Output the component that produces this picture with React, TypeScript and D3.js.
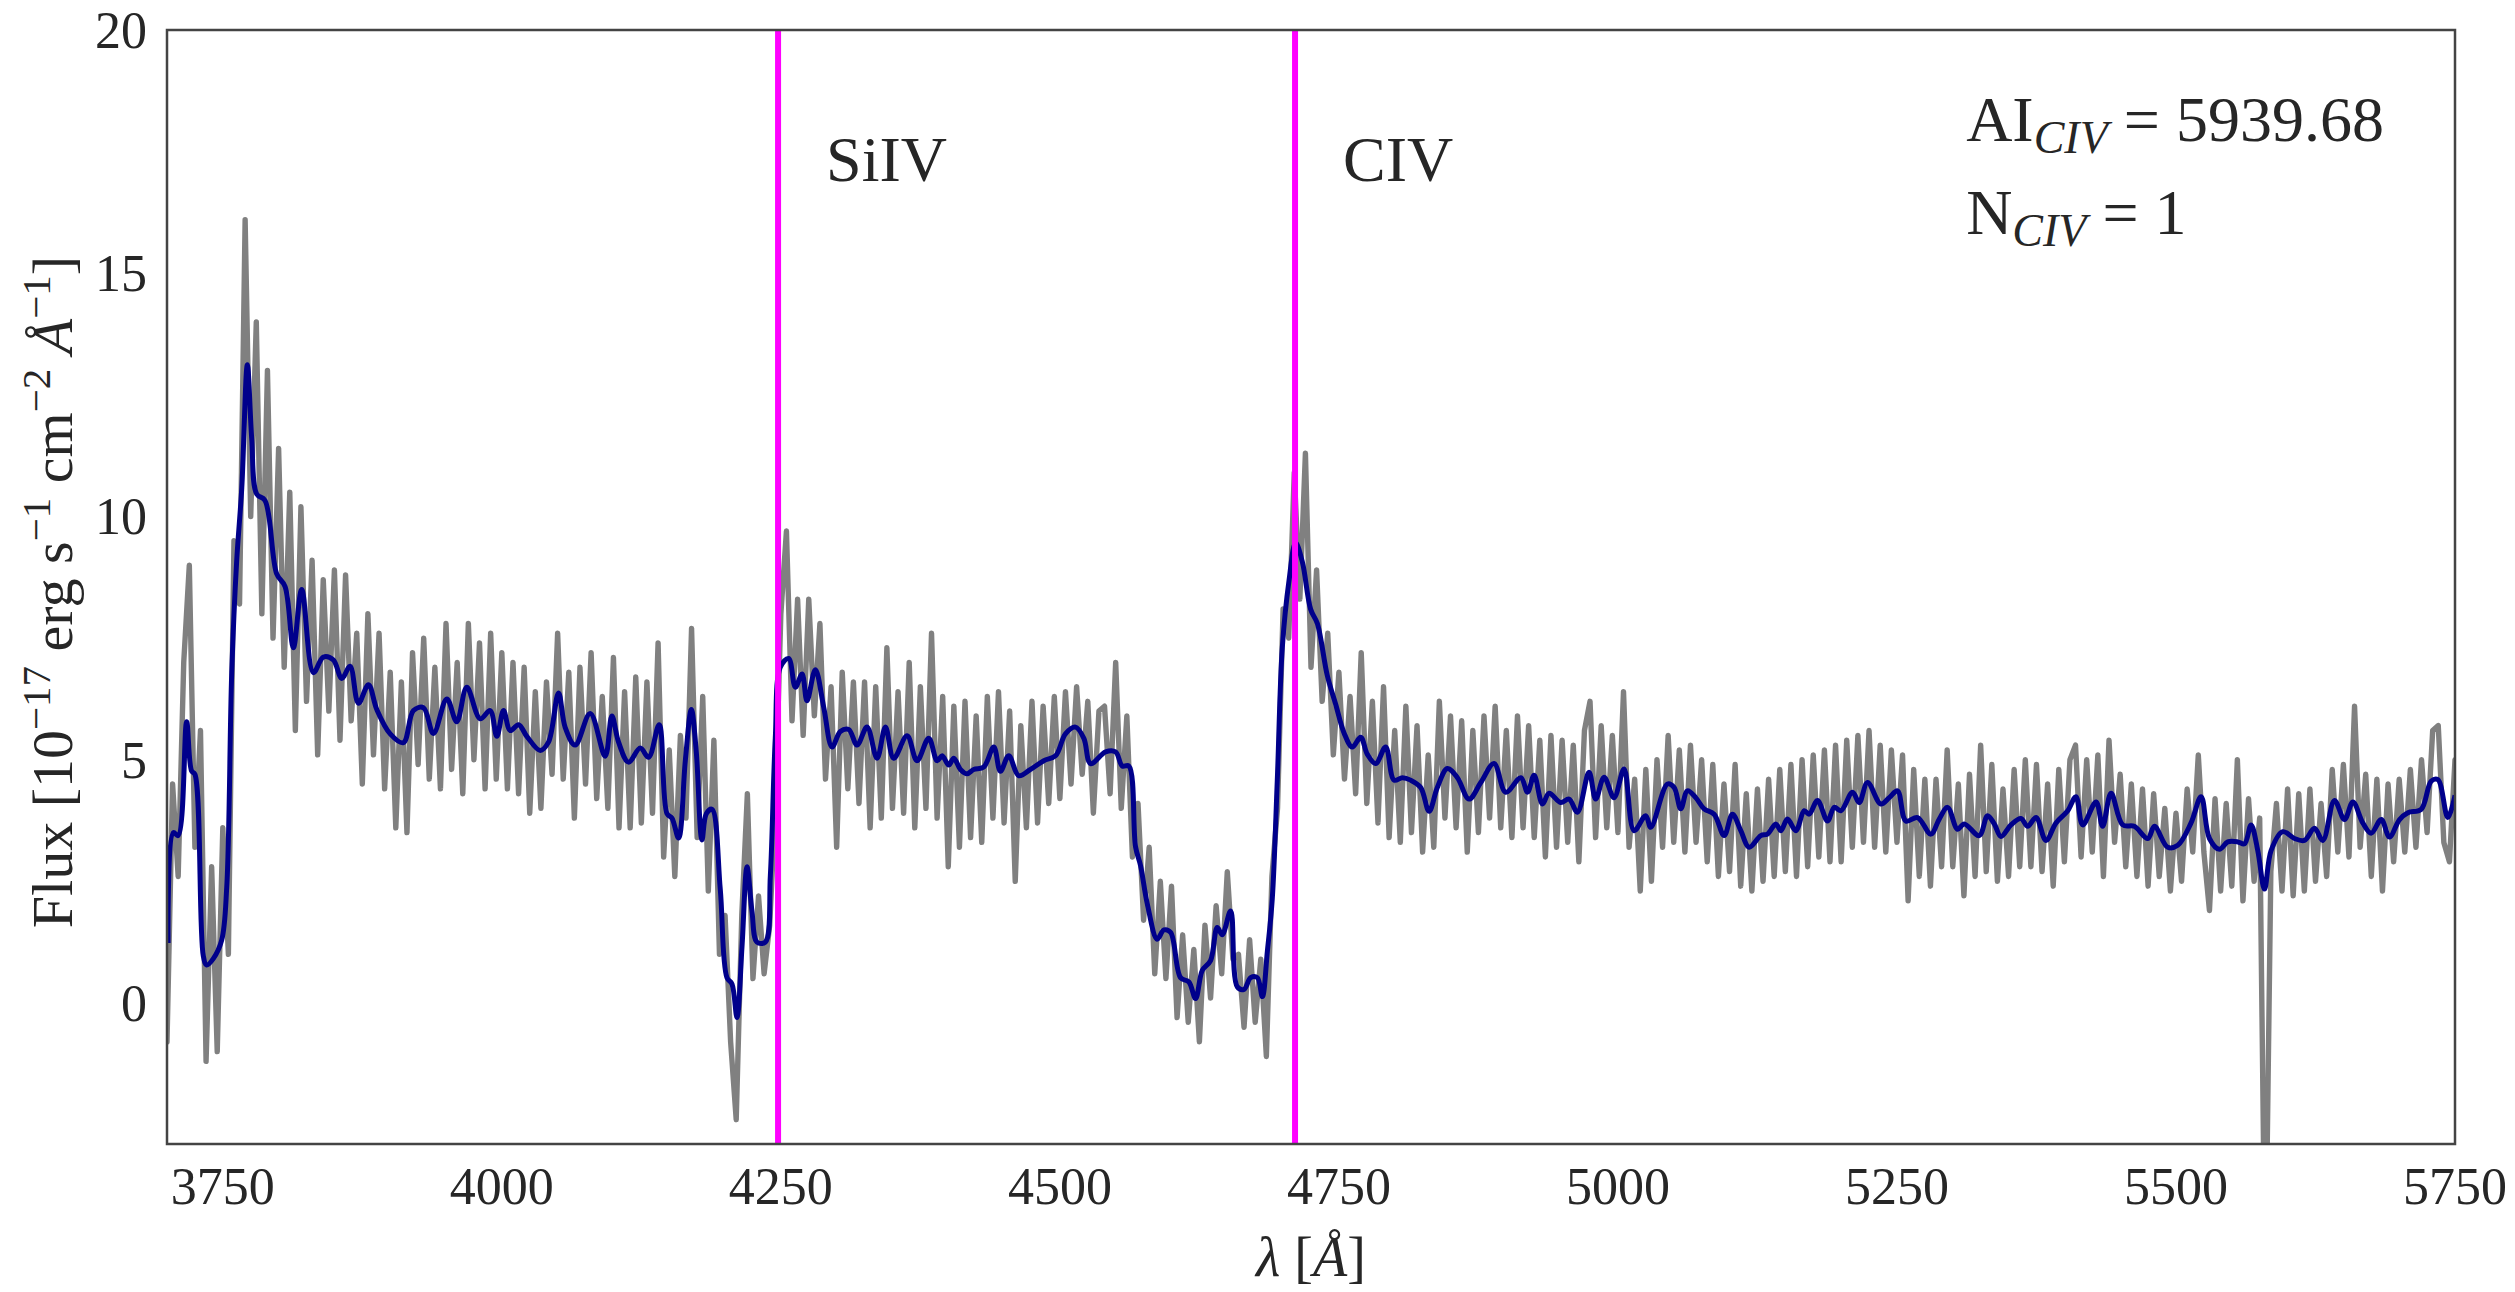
import React from 'react';
import * as d3 from 'd3';

const W = 2515;
const H = 1292;
const M = { left: 167, right: 2455, top: 30, bottom: 1144 };

const xDomain: [number, number] = [3700, 5750];
const yDomain: [number, number] = [-2.9, 20];
const xTicks = [3750, 4000, 4250, 4500, 4750, 5000, 5250, 5500, 5750];
const yTicks = [0, 5, 10, 15, 20];

// observed spectrum (grey), sampled every 5 Å from 3700 Å
const grayStart = 3700;
const grayStep = 5;
const grayFlux = [
  -0.8, 4.5, 2.6, 7.0, 9.0, 3.2, 5.6, -1.2, 2.8, -1.0, 3.6, 1.0, 9.5, 8.2, 16.1, 10.0, 14.0, 8.0, 13.0, 7.5,
  11.4, 6.9, 10.5, 5.6, 10.2, 6.2, 9.1, 5.1, 8.7, 6.0, 8.9, 5.4, 8.8, 5.8, 7.6, 4.5, 8.0, 5.1, 7.6, 4.4,
  6.8, 3.6, 6.6, 3.5, 7.2, 4.9, 7.5, 4.6, 6.9, 4.4, 7.8, 4.8, 7.0, 4.3, 7.8, 5.0, 7.4, 4.4, 7.6, 4.6,
  7.2, 4.4, 7.0, 4.3, 6.9, 3.9, 6.4, 4.0, 6.6, 4.7, 7.6, 4.6, 6.8, 3.8, 6.9, 4.5, 7.2, 4.2, 6.3, 4.0,
  7.1, 3.6, 6.4, 3.6, 6.7, 3.7, 6.6, 3.9, 7.4, 3.0, 5.2, 2.6, 5.5, 3.8, 7.7, 3.4, 6.3, 2.3, 5.4, 1.0,
  1.8, -0.8, -2.4, 1.8, 4.3, 0.5, 2.2, 0.6, 1.6, 4.0, 8.0, 9.7, 5.8, 8.3, 5.5, 8.3, 5.9, 7.8, 4.6, 6.5,
  3.2, 6.8, 4.4, 6.6, 4.1, 6.6, 3.6, 6.5, 3.8, 7.3, 4.0, 6.4, 3.9, 7.0, 3.6, 6.5, 4.0, 7.6, 3.8, 6.3,
  2.8, 6.1, 3.2, 6.2, 3.4, 5.9, 3.3, 6.3, 3.8, 6.4, 3.7, 6.0, 2.5, 5.7, 3.6, 6.2, 3.7, 6.1, 4.1, 6.3,
  4.2, 6.4, 4.5, 6.5, 4.7, 6.2, 3.9, 6.0, 6.1, 4.3, 7.0, 4.0, 5.9, 3.0, 4.1, 1.7, 3.2, 0.6, 2.5, 0.5,
  2.4, -0.3, 1.4, -0.4, 1.1, -0.8, 1.6, 0.1, 2.0, 0.6, 2.7, 0.9, 1.0, -0.5, 1.3, -0.4, 0.9, -1.1, 2.6, 4.0,
  8.1, 7.5, 10.9, 8.3, 11.3, 6.9, 8.9, 6.2, 7.6, 5.1, 6.8, 4.6, 6.3, 4.3, 7.2, 4.1, 6.2, 3.7, 6.5, 3.4,
  5.6, 3.3, 6.1, 3.5, 5.7, 3.1, 5.1, 3.2, 6.2, 3.8, 5.9, 3.6, 5.8, 3.1, 5.6, 3.5, 5.9, 3.8, 6.1, 3.6,
  5.6, 3.4, 5.9, 3.6, 5.7, 3.4, 5.4, 3.0, 5.5, 3.2, 5.4, 3.3, 5.3, 2.9, 5.6, 6.2, 3.4, 5.7, 3.6, 5.5,
  3.5, 6.4, 3.2, 4.6, 2.3, 4.8, 2.5, 5.0, 3.2, 5.5, 3.3, 5.2, 3.1, 5.3, 3.3, 5.0, 2.9, 4.9, 2.6, 4.5,
  2.7, 4.9, 2.4, 4.3, 2.3, 4.4, 2.5, 4.6, 2.6, 4.8, 2.7, 4.9, 2.6, 5.0, 2.8, 5.1, 3.0, 5.2, 2.9, 5.3,
  2.9, 5.4, 3.2, 5.5, 3.3, 5.6, 3.2, 5.3, 3.1, 5.2, 3.3, 5.1, 2.1, 4.8, 2.6, 4.6, 2.4, 4.6, 2.8, 5.2,
  2.8, 4.5, 2.2, 4.7, 2.6, 5.3, 2.7, 4.9, 2.5, 4.4, 2.6, 4.8, 2.8, 5.0, 2.8, 4.9, 2.7, 4.5, 2.4, 4.8,
  2.9, 5.0, 5.3, 3.0, 5.0, 3.1, 5.1, 2.6, 5.4, 3.3, 4.7, 2.8, 4.5, 2.6, 4.4, 2.4, 4.3, 2.6, 4.0, 2.3,
  3.9, 2.5, 4.4, 3.1, 5.1, 3.1, 1.9, 4.2, 2.3, 4.1, 2.4, 5.0, 2.1, 4.2, 2.5, 3.8, -6.0, 2.7, 4.1, 2.3,
  4.4, 2.2, 4.3, 2.3, 4.4, 2.5, 4.1, 2.6, 4.8, 3.1, 4.9, 3.0, 6.1, 3.2, 4.7, 2.6, 4.6, 2.3, 4.5, 2.9,
  4.6, 3.1, 4.8, 3.2, 5.0, 3.5, 5.6, 5.7, 3.3, 2.9, 5.0,
];

// smoothed spectrum (dark blue)
const smoothWave = [
  3701, 3705.7, 3710, 3717.6, 3722, 3725, 3732.5, 3735.5, 3741.5, 3749, 3753.5, 3758, 3762.4, 3767, 3772, 3775.9,
  3780.4, 3787.8, 3798.3, 3805.8, 3813.2, 3820.7, 3831.2, 3840.1, 3849, 3856.6, 3864, 3871.5, 3880.5, 3888, 3900,
  3911.8, 3920.8, 3929.8, 3938.7, 3950.7, 3959.6, 3968.6, 3980.6, 3989.5, 3995.5, 4001.5, 4007.5, 4015, 4022.4,
  4034.4, 4041.8, 4050.8, 4056.8, 4065.7, 4079.2, 4092.6, 4098.6, 4104.6, 4113.5, 4124, 4131.5, 4141, 4148, 4152.4,
  4158.4, 4164.4, 4169.8, 4174.2, 4179.3, 4183.2, 4188.3, 4195.7, 4201.7, 4206.2, 4210.7, 4215.2, 4219.7, 4224.1,
  4228.6, 4236.1, 4240.6, 4245, 4249.5, 4257, 4263, 4269, 4273.4, 4280.9, 4288.4, 4295.9, 4303.3, 4310.8, 4318.3,
  4327.2, 4336.2, 4343.7, 4351.1, 4363.1, 4372, 4382.5, 4390, 4394.5, 4400.4, 4404.9, 4410.9, 4416.9, 4422.8,
  4431.8, 4440.8, 4446.7, 4454.2, 4463.2, 4473.7, 4485.6, 4496.1, 4505, 4514, 4521.5, 4527.5, 4540.9, 4549.9,
  4555.9, 4561.8, 4567.8, 4572.3, 4578.3, 4587.2, 4593.2, 4599.2, 4608.1, 4615.6, 4621.6, 4627.6, 4635, 4641,
  4645.5, 4653, 4659, 4665, 4670.9, 4676.9, 4681.4, 4685.9, 4690.3, 4694.8, 4699.3, 4705.3, 4711.2, 4717.2, 4724.7,
  4730.7, 4739.6, 4747.1, 4754.6, 4762, 4769.5, 4775.5, 4783, 4791.9, 4799.4, 4806.9, 4814.3, 4823.3, 4830.8,
  4838.2, 4847.2, 4856.2, 4866.6, 4877.1, 4889, 4899.5, 4913, 4919, 4924.9, 4932.4, 4938.3, 4948.7, 4956.2, 4963.7,
  4974.1, 4980.1, 4987.6, 4996.5, 5005.5, 5014.5, 5024.9, 5029.4, 5044.4, 5050.3, 5056.3, 5062.3, 5069.7, 5077.2,
  5086.2, 5095.2, 5102.6, 5110.1, 5117.6, 5128, 5134, 5141.5, 5146, 5151.9, 5159.4, 5166.9, 5171.3, 5178.8, 5187.8,
  5193.8, 5199.7, 5210.2, 5216.2, 5223.6, 5235.6, 5243.1, 5250.5, 5258, 5268.5, 5280.4, 5287.9, 5295.4, 5304.3,
  5310.3, 5323.7, 5331.2, 5337.2, 5343.2, 5352.2, 5361.1, 5367.1, 5374.6, 5383.5, 5392.5, 5403, 5410.4, 5416.4,
  5428.4, 5434.3, 5441.8, 5452.3, 5462.7, 5474.7, 5480.7, 5492.6, 5501.6, 5513.5, 5522.5, 5530, 5538.9, 5546.4,
  5555.4, 5561.4, 5567.3, 5573.3, 5579.3, 5585.2, 5595.7, 5606.2, 5615.1, 5624.1, 5631.6, 5642, 5651, 5658.5,
  5667.4, 5674.9, 5683.9, 5691.3, 5700.3, 5707.8, 5719.7, 5728.7, 5734.7, 5743.6, 5750,
];
const smoothFlux = [
  1.23, 3.5, 3.44, 5.78, 4.77, 4.7, 0.97, 0.78, 0.91, 1.29, 2.37, 6.79, 9.07, 10.59, 13.12, 11.6,
  10.46, 10.33, 8.82, 8.56, 7.3, 8.5, 6.79, 7.11, 7.05, 6.67, 6.92, 6.16, 6.54, 6.03, 5.53,
  5.35, 6.01, 6.07, 5.54, 6.25, 5.78, 6.49, 5.84, 6.01, 5.48, 6.01, 5.6, 5.72, 5.48,
  5.19, 5.36, 6.37, 5.66, 5.3, 5.95, 5.07, 5.9, 5.36, 4.95, 5.24, 5.05, 5.72, 3.89, 3.8,
  3.39, 4.98, 6.03, 5.17, 3.35, 3.89, 3.98, 2.34, 0.52, 0.39, -0.3, 1.16, 2.8, 1.89,
  1.25, 1.25, 2.62, 5.44, 6.9, 7.08, 6.49, 6.76, 6.21, 6.85, 6.08, 5.26, 5.58, 5.62, 5.3,
  5.67, 5.03, 5.67, 5.03, 5.49, 4.98, 5.44, 4.98, 5.08, 4.89, 5.03, 4.8, 4.71, 4.8,
  4.85, 5.26, 4.76, 5.08, 4.67, 4.8, 4.98, 5.08, 5.53, 5.67, 5.44, 4.92, 5.16, 5.16,
  4.87, 4.87, 3.21, 2.82, 2.04, 1.31, 1.5, 1.45, 0.52, 0.43, 0.09, 0.67, 0.87, 1.55,
  1.4, 1.89, 0.33, 0.28, 0.52, 0.52, 0.13, 1.06, 2.14, 4.58, 7.31, 8.68, 9.46, 9.07, 8.09,
  7.8, 6.73, 6.14, 5.55, 5.26, 5.46, 5.11, 4.92, 5.26, 4.58, 4.63, 4.58, 4.43, 3.94,
  4.43, 4.82, 4.63, 4.19, 4.53, 4.92, 4.33, 4.63, 4.33, 4.68, 4.09, 4.31, 4.12, 4.19, 3.92,
  4.74, 4.19, 4.64, 4.22, 4.81, 3.54, 3.85, 3.61, 4.5, 4.43, 3.99, 4.36, 4.22, 3.99,
  3.88, 3.44, 3.88, 3.54, 3.2, 3.44, 3.47, 3.68, 3.54, 3.78, 3.54, 3.95, 3.88, 4.16, 3.74,
  4.02, 3.95, 4.33, 4.12, 4.53, 4.09, 4.22, 4.36, 3.74, 3.81, 3.47, 3.78, 4.02, 3.57,
  3.68, 3.44, 3.85, 3.68, 3.42, 3.66, 3.79, 3.63, 3.81, 3.34, 3.7, 3.95, 4.24, 3.66,
  4.13, 3.63, 4.31, 3.66, 3.63, 3.38, 3.63, 3.2, 3.24, 3.7, 4.24, 3.38, 3.16, 3.31,
  3.31, 3.27, 3.66, 3.13, 2.34, 3.13, 3.52, 3.38, 3.34, 3.59, 3.34, 4.16, 3.77, 4.13,
  3.7, 3.49, 3.77, 3.41, 3.77, 3.91, 3.98, 4.56, 4.59, 3.81, 4.27,
];

const lineWaves = [4247.5, 4710.7];
const lineNames = ['SiIV', 'CIV'];
const lineLabelOffset = 43; // Å to the right of each line
const lineLabelFlux = 16.9;

const annotX = 5312;
const annotFlux = [17.72, 15.8];

const FONT = "'Liberation Serif', 'DejaVu Serif', serif";
const TEXT = '#262626';

export default function App() {
  const x = d3.scaleLinear().domain(xDomain).range([M.left, M.right]);
  const y = d3.scaleLinear().domain(yDomain).range([M.bottom, M.top]);

  const grayPts: [number, number][] = grayFlux.map((f, i) => [grayStart + i * grayStep, f]);
  const smoothPts: [number, number][] = smoothWave.map((w, i) => [w, smoothFlux[i]]);

  const grayLine = d3.line<[number, number]>().x(d => x(d[0])).y(d => y(d[1]));
  const smoothLine = d3
    .line<[number, number]>()
    .x(d => x(d[0]))
    .y(d => y(d[1]))
    .curve(d3.curveCatmullRom.alpha(0.5));

  const tickFont = 52;
  const labelFont = 64;
  const tf = { fontFamily: FONT };

  return (
    <svg
      width={W}
      height={H}
      style={{ position: 'absolute', left: 0, top: 0, display: 'block', background: '#fff', fontFamily: FONT }}
    >
      <defs>
        <clipPath id="plotclip">
          <rect x={M.left} y={M.top} width={M.right - M.left} height={M.bottom - M.top} />
        </clipPath>
      </defs>
      <rect x={0} y={0} width={W} height={H} fill="#fff" />

      <g clipPath="url(#plotclip)">
        <path
          d={grayLine(grayPts) || ''}
          fill="none"
          stroke="#808080"
          strokeWidth={5.4}
          strokeLinejoin="round"
          strokeLinecap="round"
        />
        <path d={smoothLine(smoothPts) || ''} fill="none" stroke="#00008b" strokeWidth={5} />
        {lineWaves.map((w, i) => (
          <line key={i} x1={x(w)} x2={x(w)} y1={M.top} y2={M.bottom} stroke="#ff00ff" strokeWidth={6} />
        ))}
      </g>

      {lineWaves.map((w, i) => (
        <text key={i} x={x(w + lineLabelOffset)} y={y(lineLabelFlux)} fontSize={labelFont} fill={TEXT} style={tf}>
          {lineNames[i]}
        </text>
      ))}

      <text x={x(annotX)} y={y(annotFlux[0])} fontSize={labelFont} fill={TEXT} style={tf}>
        AI
        <tspan dy={12} fontSize={46} fontStyle="italic">CIV</tspan>
        <tspan dy={-12}> = 5939.68</tspan>
      </text>
      <text x={x(annotX)} y={y(annotFlux[1])} fontSize={labelFont} fill={TEXT} style={tf}>
        N
        <tspan dy={12} fontSize={46} fontStyle="italic">CIV</tspan>
        <tspan dy={-12}> = 1</tspan>
      </text>

      <rect
        x={M.left}
        y={M.top}
        width={M.right - M.left}
        height={M.bottom - M.top}
        fill="none"
        stroke="#444"
        strokeWidth={2.5}
      />

      {xTicks.map(t => (
        <text key={t} x={x(t)} y={M.bottom + 60} fontSize={tickFont} textAnchor="middle" fill={TEXT} style={tf}>
          {t}
        </text>
      ))}
      {yTicks.map(t => (
        <text key={t} x={M.left - 20} y={y(t) + 18} fontSize={tickFont} textAnchor="end" fill={TEXT} style={tf}>
          {t}
        </text>
      ))}

      <text x={(M.left + M.right) / 2} y={1276} fontSize={56} textAnchor="middle" fill={TEXT} style={tf}>
        <tspan fontStyle="italic">λ</tspan> [<tspan fontStyle="italic">Å</tspan>]
      </text>

      <text
        transform={`translate(72, ${(M.top + M.bottom) / 2 + 5}) rotate(-90)`}
        fontSize={58}
        textAnchor="middle"
        fill={TEXT}
        style={tf}
      >
        Flux [10
        <tspan dy={-22} fontSize={41}>−17</tspan>
        <tspan dy={22}> erg s</tspan>
        <tspan dy={-22} fontSize={41}>−1</tspan>
        <tspan dy={22}> cm</tspan>
        <tspan dy={-22} fontSize={41}>−2</tspan>
        <tspan dy={22}> </tspan>
        <tspan fontStyle="italic">Å</tspan>
        <tspan dy={-22} fontSize={41}>−1</tspan>
        <tspan dy={22}>]</tspan>
      </text>
    </svg>
  );
}
